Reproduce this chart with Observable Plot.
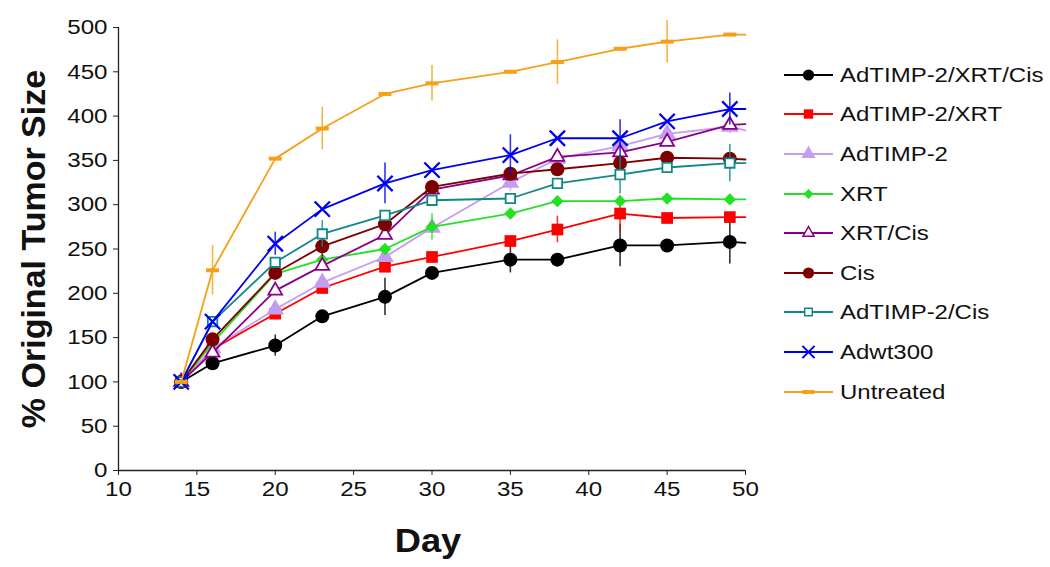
<!DOCTYPE html>
<html><head><meta charset="utf-8">
<script src="https://cdn.jsdelivr.net/npm/d3@7"></script>
<script src="https://cdn.jsdelivr.net/npm/@observablehq/plot@0.6"></script>
<style>
body{margin:0;background:#fff;font-family:"Liberation Sans",Arial,sans-serif;}
#wrap{position:relative;width:1050px;height:567px;overflow:hidden;}
#chart{position:absolute;left:0;top:0;}
#legend{position:absolute;left:783px;top:55px;}
.row{display:flex;align-items:center;height:39.6px;}
.row svg{flex:none;}
.row span{display:inline-block;font-size:20.5px;color:#111;margin-left:5px;transform:scaleX(1.17);transform-origin:left center;white-space:nowrap;}
#ylab{position:absolute;left:33px;top:249px;transform:translate(-50%,-50%) rotate(-90deg);font-weight:bold;font-size:34px;white-space:nowrap;color:#111;}
#xlab{position:absolute;left:428px;top:541px;transform:translate(-50%,-50%) scaleX(1.1);font-weight:bold;font-size:33px;color:#111;}
</style></head><body>
<div id="wrap"><div id="chart"></div><div id="legend"></div>
<div id="ylab">% Original Tumor Size</div><div id="xlab">Day</div></div>
<script>
// ---- data ----
const days = [14, 16, 20, 23, 27, 30, 35, 38, 42, 45, 49];
const edgeDay = 50; // lines continue to the right edge of the axis
const seriesNames = ["AdTIMP-2/XRT/Cis", "AdTIMP-2/XRT", "AdTIMP-2", "XRT", "XRT/Cis", "Cis", "AdTIMP-2/Cis", "Adwt300", "Untreated"];

const adtimpXrtCis = [100, 121, 141, 174, 196, 223, 238, 238, 254, 254, 258];
const adtimpXrt    = [100, 137, 177, 206, 230, 241, 259, 272, 290, 285, 286];
const adtimp       = [100, 138, 182, 212, 241, 274, 325, 352, 366, 380, 388];
const xrt          = [100, 144, 222, 238, 250, 275, 290, 304, 304, 307, 306];
const xrtCis       = [100, 133, 203, 231, 266, 317, 333, 354, 359, 371, 390];
const cis          = [100, 148, 223, 253, 278, 320, 335, 340, 347, 353, 352];
const adtimpCis    = [100, 168, 235, 267, 288, 305, 307, 324, 334, 342, 347];
const adwt300      = [100, 168, 256, 295, 324, 339, 356, 375, 375, 394, 408];
const untreated    = [100, 226, 352, 386, 425, 437, 450, 461, 476, 484, 492];

const edgeValues = [257, 286, 384, 306, 391, 351, 347, 408, 492];

const errAdtimpXrtCis = [null, null, 12, null, 21, null, 15, null, 24, null, 25];
const errAdtimpXrt    = [null, null, null, null, null, null, null, 15, 20, null, null];
const errAdtimp       = [null, null, null, null, null, null, 10, null, null, null, 8];
const errXrt          = [null, null, null, null, null, 15, null, null, null, null, null];
const errXrtCis       = [null, null, null, null, null, null, null, null, null, null, null];
const errCis          = [null, null, null, 12, null, null, null, null, null, null, null];
const errAdtimpCis    = [null, null, null, 15, null, null, null, null, 22, null, 21];
const errAdwt300      = [null, null, 13, null, 23, null, 23, null, 21, null, 18];
const errUntreated    = [null, 28, null, 24, null, 20, null, 25, null, 24, null];

const yTicks = [0, 50, 100, 150, 200, 250, 300, 350, 400, 450, 500];
const xTicks = [10, 15, 20, 25, 30, 35, 40, 45, 50];

// ---- styles ----
const dash = {draw(ctx) { ctx.rect(-6.5, -2, 13, 4); }};
const styles = [
  {color: "#000000", symbol: "circle",   r: 7,   filled: true},
  {color: "#ff0000", symbol: "square",   r: 6.6, filled: true},
  {color: "#c49cf0", symbol: "triangle", r: 6.6, filled: true},
  {color: "#22e022", symbol: "diamond2", r: 5.6, filled: true},
  {color: "#8b008b", symbol: "triangle2",r: 6.6, filled: false},
  {color: "#7d0000", symbol: "circle",   r: 7,   filled: true},
  {color: "#108888", symbol: "square2",  r: 6,   filled: false},
  {color: "#0000f0", symbol: "times",    r: 7,   filled: false},
  {color: "#f5a018", symbol: dash,       r: 6,   filled: true}
];
const values = [adtimpXrtCis, adtimpXrt, adtimp, xrt, xrtCis, cis, adtimpCis, adwt300, untreated];
const errors = [errAdtimpXrtCis, errAdtimpXrt, errAdtimp, errXrt, errXrtCis, errCis, errAdtimpCis, errAdwt300, errUntreated];

const marks = [];
seriesNames.forEach((name, s) => {
  const st = styles[s];
  const pts = days.map((d, i) => ({day: d, v: values[s][i], e: errors[s][i]}));
  const linePts = pts.concat([{day: edgeDay, v: edgeValues[s]}]);
  const errPts = pts.filter(p => p.e != null);
  marks.push(Plot.ruleX(errPts, {x: "day", y1: p => p.v - p.e, y2: p => p.v + p.e, stroke: st.color, strokeWidth: 1.6, strokeOpacity: 0.8}));
  marks.push(Plot.line(linePts, {x: "day", y: "v", stroke: st.color, strokeWidth: 1.8}));
  marks.push(Plot.dot(pts, {
    x: "day", y: "v", symbol: st.symbol, r: st.r,
    fill: st.filled ? st.color : (st.symbol === "times" ? "none" : "white"),
    stroke: st.filled ? "none" : st.color,
    strokeWidth: st.symbol === "times" ? 2.3 : 1.8
  }));
});

const chart = Plot.plot({
  width: 770, height: 567,
  marginLeft: 118, marginRight: 25, marginTop: 27, marginBottom: 97,
  style: {fontFamily: "'Liberation Sans', Arial, sans-serif", color: "#111", background: "white"},
  x: {domain: [10, 50]},
  y: {domain: [0, 500]},
  marks: [
    Plot.axisX({ticks: xTicks, tickSize: 5, tickPadding: 6, fontSize: 21, label: null, stroke: "#222"}),
    Plot.axisY({ticks: yTicks, tickSize: 5, tickPadding: 6, fontSize: 21, label: null, stroke: "#222"}),
    ...marks,
    Plot.ruleX([10], {stroke: "#222", strokeWidth: 1.3}),
    Plot.ruleY([0], {stroke: "#222", strokeWidth: 1.3})
  ]
});
chart.querySelectorAll('g[aria-label$="tick label"] text').forEach(t => {
  const tr = t.getAttribute("transform");
  if (tr && tr.includes("translate")) t.setAttribute("transform", tr + " scale(1.15,1)");
});
document.getElementById("chart").appendChild(chart);

// ---- legend ----
const legend = d3.select("#legend");
seriesNames.forEach((name, s) => {
  const st = styles[s];
  const row = legend.append("div").attr("class", "row");
  const sv = row.append("svg").attr("width", 52).attr("height", 24);
  sv.append("line").attr("x1", 1).attr("x2", 50).attr("y1", 12).attr("y2", 12).attr("stroke", st.color).attr("stroke-width", 1.8);
  const g = sv.append("g").attr("transform", "translate(25.5,12)");
  if (st.symbol === dash) {
    g.append("rect").attr("x", -6).attr("y", -2).attr("width", 12).attr("height", 4).attr("fill", st.color);
  } else {
    const symMap = {circle: d3.symbolCircle, square: d3.symbolSquare, triangle: d3.symbolTriangle, diamond2: d3.symbolDiamond2, triangle2: d3.symbolTriangle2, square2: d3.symbolSquare2, times: d3.symbolTimes};
    const rr = st.r * 0.8;
    g.append("path").attr("d", d3.symbol(symMap[st.symbol], Math.PI * rr * rr)())
      .attr("fill", st.filled ? st.color : (st.symbol === "times" ? "none" : "white"))
      .attr("stroke", st.filled ? "none" : st.color)
      .attr("stroke-width", st.symbol === "times" ? 2 : 1.5);
  }
  row.append("span").text(name);
});
</script>
</body></html>
